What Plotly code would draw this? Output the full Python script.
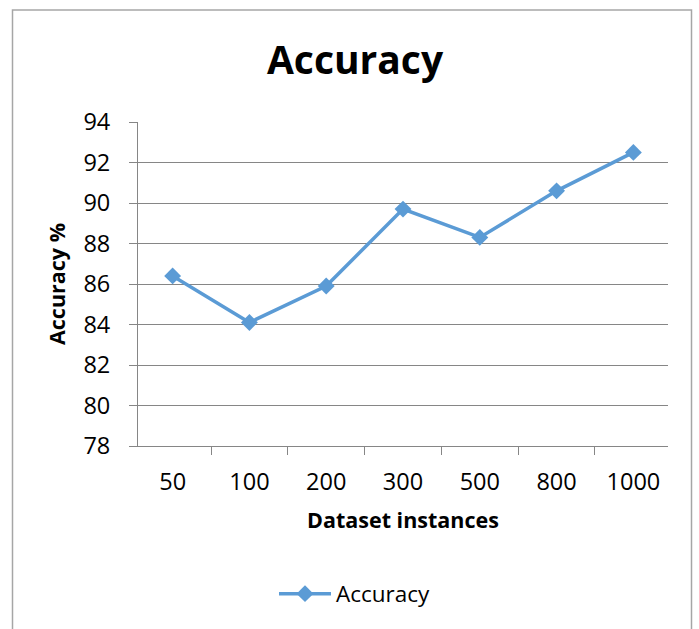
import plotly.graph_objects as go

categories = ["50", "100", "200", "300", "500", "800", "1000"]
accuracy = [86.4, 84.1, 85.9, 89.7, 88.3, 90.6, 92.5]
y_ticks = [78, 80, 82, 84, 86, 88, 90, 92, 94]

W, H = 699, 629
L, R, T, B = 138, 668, 122, 446

FONT = "Open Sans"
GRID = "#868686"
BLUE = "#5b9bd5"

fig = go.Figure()
fig.add_trace(go.Scatter(
    x=categories, y=accuracy, mode="lines+markers", name="Accuracy",
    line=dict(color=BLUE, width=3.5),
    marker=dict(symbol="diamond", size=13, color=BLUE),
))

pw, ph = R - L, B - T
def px_x(p):
    return (p - L) / pw
def px_y(p):
    return (B - p) / ph

fig.add_shape(type="rect", xref="paper", yref="paper",
              x0=px_x(12.5), x1=px_x(691.5), y0=px_y(660), y1=px_y(10),
              line=dict(color="#a6a6a6", width=1.5), fillcolor="rgba(0,0,0,0)",
              layer="below")

fig.update_layout(
    width=W, height=H,
    margin=dict(l=L, r=W - R, t=T, b=H - B, pad=0),
    paper_bgcolor="white", plot_bgcolor="white",
    font=dict(family=FONT, color="black", size=23),
    title=dict(text="<b>Accuracy</b>", font=dict(family=FONT, size=39, color="black"),
               x=355 / W, xanchor="center", xref="container",
               y=1 - 60 / H, yanchor="middle", yref="container"),
    showlegend=True,
    legend=dict(orientation="h", xref="container", yref="container",
                x=355 / W, xanchor="center", y=1 - 594 / H, yanchor="middle",
                font=dict(family=FONT, size=22.5, color="black"), itemwidth=52,
                bgcolor="rgba(0,0,0,0)"),
    xaxis=dict(
        type="category", showgrid=False, showline=True, linecolor=GRID, linewidth=1,
        ticks="outside", tickson="boundaries", ticklen=8, tickcolor=GRID,
        tickfont=dict(family=FONT, size=23.5, color="black"),
        ticklabelstandoff=15,
        title=dict(text="<b>Dataset instances</b>", font=dict(family=FONT, size=21.5, color="black"),
                   standoff=16),
        fixedrange=True,
    ),
    yaxis=dict(
        range=[78, 94], tickvals=y_ticks, showgrid=True, gridcolor=GRID, gridwidth=1,
        showline=True, linecolor=GRID, linewidth=1, zeroline=False,
        ticks="outside", ticklen=8, tickcolor=GRID,
        tickfont=dict(family=FONT, size=23.5, color="black"),
        ticklabelstandoff=14,
        title=dict(text="<b>Accuracy %</b>", font=dict(family=FONT, size=21.5, color="black"),
                   standoff=11),
        fixedrange=True,
    ),
)

fig.write_html("out.html", config={"displayModeBar": False},
               post_script="document.body.style.margin='0';document.body.style.overflow='hidden';")
